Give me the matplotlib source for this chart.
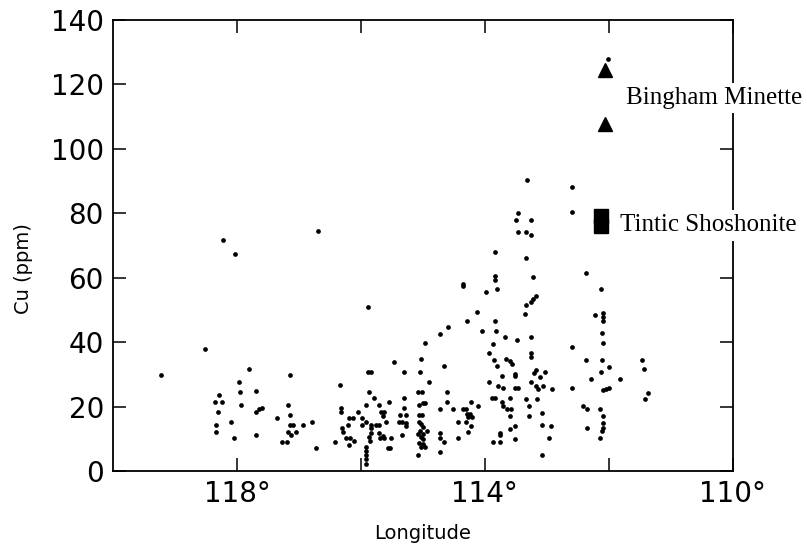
import matplotlib
matplotlib.use("Agg")
import matplotlib.pyplot as plt

# Cu (ppm) vs longitude
lon_dots = [
    119.23, 118.51, 118.22, 118.03, 116.69, 117.80, 117.96, 117.95, 117.69, 118.29,
    118.36, 118.24, 117.93, 118.30, 117.70, 117.65, 117.60, 118.34, 118.34, 118.10,
    118.04, 117.70, 117.35, 117.18, 117.14, 117.14, 117.14, 117.09, 117.17, 117.12,
    117.04, 116.94, 117.28, 117.19, 116.79, 116.72, 116.42, 116.33, 116.32, 116.32,
    116.30, 116.29, 116.21, 116.19, 116.13, 116.24, 116.18, 116.19, 116.11,
    115.89, 115.89, 115.83, 115.31, 115.04, 114.90, 115.47, 115.03, 114.97, 115.87,
    115.79, 115.71, 115.55, 115.91, 116.05, 115.98, 115.92, 115.98, 115.83, 115.76,
    115.70, 115.67, 115.63, 115.64, 115.60, 115.84, 115.84, 115.87, 115.85, 115.70,
    115.65, 115.69, 115.63, 115.52, 115.56, 115.53, 115.91, 115.91, 115.91, 115.91,
    115.91, 115.37, 115.28, 115.39, 115.34, 115.28, 115.31, 115.31, 115.27, 115.33,
    115.08, 115.02, 115.07, 114.99, 114.96, 115.06, 115.02, 115.06, 115.03, 114.99,
    115.05, 114.94, 115.08, 115.00, 115.03, 114.99, 115.06, 114.99, 115.03, 114.97,
    115.08, 114.73, 114.73, 114.66, 114.73, 114.72, 114.61, 114.61, 114.51, 114.36,
    114.31, 114.29, 114.27, 114.24, 114.21, 114.44, 114.30, 114.22, 114.27, 114.44,
    114.22, 114.11, 114.35, 114.35, 114.12, 114.29, 114.59, 114.72, 114.66,
    113.83, 113.34, 113.83, 113.83, 113.81, 113.98, 113.34, 113.35, 114.04, 113.83,
    113.82, 113.68, 113.48, 113.87, 113.94, 113.86, 113.80, 113.94, 113.89, 113.84,
    113.79, 113.71, 113.66, 113.60, 113.56, 113.52, 113.52, 113.72, 113.51, 113.46,
    113.60, 113.72, 113.70, 113.64, 113.57, 113.60, 113.51, 113.60, 113.51, 113.76,
    113.75, 113.87, 113.76, 113.33, 113.29, 113.29, 113.26, 113.26, 113.32, 113.47,
    113.49, 113.25, 113.47, 113.33, 113.26, 113.22, 113.18, 113.22, 113.25, 113.25,
    113.18, 113.20, 113.11, 113.03, 113.25, 113.18, 113.15, 113.06, 112.91, 113.16,
    113.07, 113.07, 112.93, 112.97, 113.07,
    112.59, 112.59, 112.37, 112.13, 112.23, 112.10, 112.10, 112.10, 112.11, 112.10,
    112.60, 112.37, 112.11, 112.00, 112.12, 112.29, 111.82, 112.10, 112.05, 112.00,
    112.59, 111.47, 111.44, 111.36, 111.42, 112.42, 112.35, 112.15, 112.10, 112.10,
    112.10, 112.11, 112.35, 112.15, 112.02,
]
cu_dots = [
    29.8, 37.9, 71.6, 67.4, 74.4, 31.8, 27.6, 24.6, 24.7, 23.6,
    21.5, 21.5, 20.4, 18.3, 18.4, 19.2, 19.4, 14.2, 12.1, 15.2,
    10.2, 11.3, 16.4, 20.4, 29.8, 17.4, 14.3, 14.3, 12.1, 11.3,
    12.1, 14.3, 9.1, 9.1, 15.3, 7.1, 9.1, 26.6, 19.4, 18.4,
    13.2, 12.1, 14.3, 16.4, 16.4, 10.2, 10.2, 8.1, 9.3,
    50.8, 30.7, 30.7, 30.7, 30.7, 27.5, 33.7, 34.8, 39.6, 24.6,
    22.5, 20.4, 21.5, 20.4, 18.4, 16.4, 15.3, 14.2, 14.3, 14.3,
    14.3, 18.3, 18.3, 17.1, 15.3, 13.3, 11.8, 10.4, 9.3, 11.8,
    10.8, 10.2, 10.2, 10.2, 7.1, 7.1, 7.3, 6.2, 5.0, 3.6,
    2.1, 17.3, 17.3, 15.3, 15.3, 14.9, 19.4, 22.5, 13.9, 11.2,
    24.6, 24.6, 20.4, 21.2, 21.2, 17.3, 17.3, 15.3, 14.5, 13.5,
    12.4, 12.4, 11.4, 11.4, 10.4, 9.9, 8.8, 8.3, 7.3, 7.3,
    5.0, 11.9, 10.2, 9.1, 5.8, 19.3, 24.4, 21.5, 19.1, 19.1,
    19.1, 17.6, 16.8, 17.6, 16.8, 15.1, 15.1, 14.1, 12.0, 10.1,
    21.3, 20.3, 58.1, 57.5, 49.5, 46.6, 44.7, 42.6, 32.6,
    68.0, 66.2, 60.4, 59.3, 56.4, 55.4, 51.6, 48.6, 43.6, 46.5,
    43.6, 41.5, 40.5, 39.5, 36.6, 34.5, 32.5, 27.5, 22.8, 22.5,
    26.4, 25.7, 34.8, 34.2, 33.2, 30.1, 29.5, 29.6, 25.7, 25.7,
    22.5, 21.3, 20.2, 19.2, 19.2, 17.2, 14.1, 12.9, 10.0, 11.9,
    11.2, 8.9, 8.9, 22.3, 20.2, 17.2, 36.5, 35.5, 90.3, 80.1,
    78.0, 78.0, 74.3, 74.3, 73.1, 60.1, 54.4, 53.5, 52.4, 41.7,
    31.3, 30.3, 29.3, 30.6, 27.6, 26.4, 25.3, 26.4, 25.4, 22.4,
    18.0, 14.2, 14.0, 10.1, 5.0,
    88.1, 80.5, 61.4, 56.4, 48.5, 48.9, 47.7, 46.5, 42.7, 39.6,
    38.6, 34.4, 34.4, 32.4, 30.8, 28.4, 28.4, 25.1, 25.5, 25.9,
    25.6, 34.4, 31.5, 24.3, 22.4, 20.1, 19.2, 19.2, 17.1, 15.0,
    13.3, 12.4, 13.3, 10.2, 128.0,
]

bingham_lon = [112.06, 112.06]
bingham_cu = [124.6, 107.8]
tintic_lon = [112.13, 112.13]
tintic_cu = [79.3, 76.0]

x_ticks = [118, 116, 114, 112, 110]
x_ticklabels = ["118°", "", "114°", "", "110°"]
y_ticks = [0, 20, 40, 60, 80, 100, 120, 140]

fig = plt.figure(figsize=(8.07, 5.47), dpi=100)
ax = fig.add_axes([0.140, 0.139, 0.768, 0.8245])

ax.plot(lon_dots, cu_dots, "o", color="black", ms=3.4, mew=0, ls="none")
ax.plot(bingham_lon, bingham_cu, "^", color="black", ms=10.5, ls="none")
ax.plot(tintic_lon, tintic_cu, "s", color="black", ms=10.5, ls="none")

ax.set_xlim(120, 110)
ax.set_ylim(0, 140)
ax.set_xticks(x_ticks)
ax.set_xticklabels(x_ticklabels)
ax.set_yticks(y_ticks)

ax.tick_params(direction="in", length=9.5, width=1.1, top=True, right=True,
               labelsize=20, pad=6.5)
for sp in ax.spines.values():
    sp.set_linewidth(1.3)

ax.set_xlabel("Longitude", fontsize=14)
ax.xaxis.set_label_coords(0.5, -0.118)
ax.set_ylabel("Cu (ppm)", fontsize=14)
ax.yaxis.set_label_coords(-0.129, 0.449)

lbl_box = dict(facecolor="white", edgecolor="none", pad=3)
ax.text(111.73, 113.9, "Bingham Minette", fontsize=18, family="Liberation Serif",
        ha="left", va="baseline", bbox=lbl_box, clip_on=False, zorder=5)
ax.text(111.82, 74.4, "Tintic Shoshonite", fontsize=18, family="Liberation Serif",
        ha="left", va="baseline", bbox=lbl_box, clip_on=False, zorder=5)

fig.savefig("out.png", dpi=100)
